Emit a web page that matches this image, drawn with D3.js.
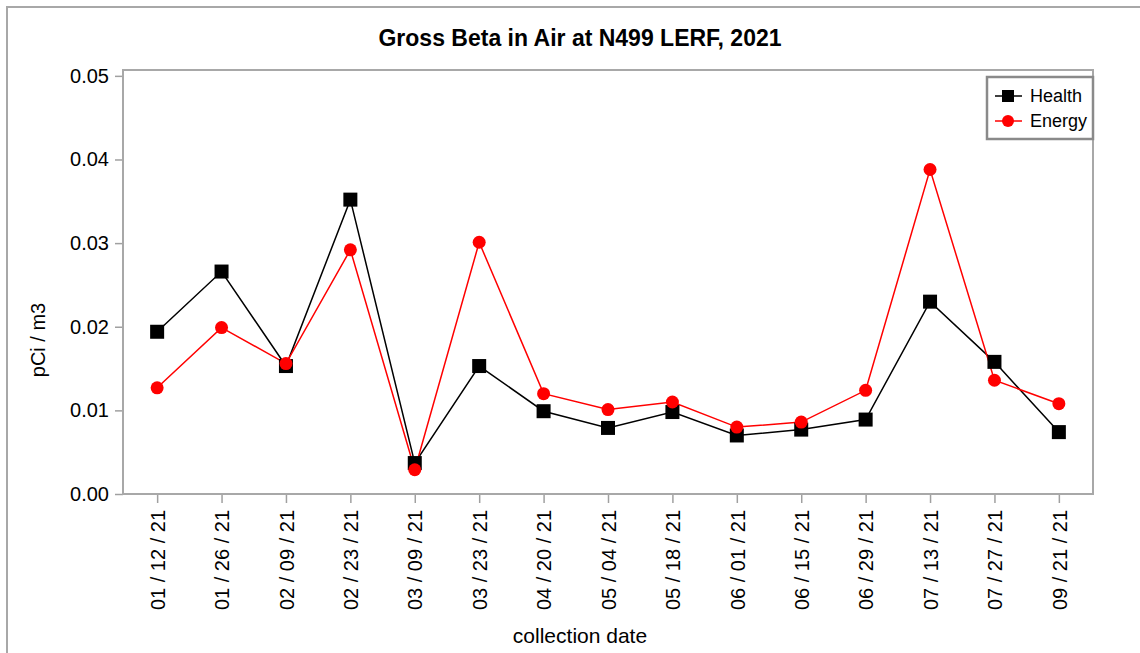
<!DOCTYPE html>
<meta charset="utf-8">
<html>
<style>
	body { margin: 0; background: #fff; }
	text { font-family: "Liberation Sans", Arial, sans-serif; fill: #000; }
	.frame { fill: none; stroke: #a8a8a8; stroke-width: 2px; }
	.tick line { stroke: #a0a0a0; stroke-width: 1.5px; }
</style>
<body>
	<script src="https://d3js.org/d3.v7.min.js"></script>
	<script type="text/javascript">
		// collection dates
		var dates = ["01 / 12 / 21", "01 / 26 / 21", "02 / 09 / 21", "02 / 23 / 21", "03 / 09 / 21",
			"03 / 23 / 21", "04 / 20 / 21", "05 / 04 / 21", "05 / 18 / 21", "06 / 01 / 21",
			"06 / 15 / 21", "06 / 29 / 21", "07 / 13 / 21", "07 / 27 / 21", "09 / 21 / 21"];
		// pCi / m3
		var health = [0.0194, 0.0266, 0.0153, 0.0352, 0.0037, 0.0153, 0.0099, 0.0079, 0.0098,
			0.0070, 0.0077, 0.0089, 0.0230, 0.0158, 0.0074];
		var energy = [0.0127, 0.0199, 0.0156, 0.0292, 0.0029, 0.0301, 0.0120, 0.0101, 0.0110,
			0.0080, 0.0086, 0.0124, 0.0388, 0.0136, 0.0108];
		var yTicks = [0, 0.01, 0.02, 0.03, 0.04, 0.05];

		var width = 1140, height = 653;
		var pLeft = 123, pRight = 1093, pTop = 70, pBottom = 494;

		var svg = d3.select("body").append("svg")
			.attr("width", width)
			.attr("height", height);

		// outer frame (top + left edges only visible)
		svg.append("path")
			.attr("d", "M7,653V7H1140")
			.attr("fill", "none")
			.attr("stroke", "#a8a8a8")
			.attr("stroke-width", 2);

		var x = d3.scalePoint()
			.domain(dates)
			.range([pLeft, pRight])
			.padding(0.53);

		var y = d3.scaleLinear()
			.domain([0, 0.0507])
			.range([pBottom, pTop]);

		// title
		svg.append("text")
			.attr("x", 580)
			.attr("y", 46)
			.attr("text-anchor", "middle")
			.style("font-size", "23px")
			.style("font-weight", "bold")
			.text("Gross Beta in Air at N499 LERF, 2021");

		// y axis
		var yAxis = svg.append("g")
			.attr("transform", "translate(" + pLeft + ",0)")
			.call(d3.axisLeft(y).tickValues(yTicks).tickFormat(d3.format(".2f")).tickSize(8).tickPadding(6));
		yAxis.select(".domain").remove();
		yAxis.selectAll("text")
			.style("font-size", "20px")
			.style("font-family", "'Liberation Sans', Arial, sans-serif")
			.attr("fill", "#000");

		// x axis
		var xAxis = svg.append("g")
			.attr("transform", "translate(0," + pBottom + ")")
			.call(d3.axisBottom(x).tickSize(9).tickPadding(0));
		xAxis.select(".domain").remove();
		xAxis.selectAll("text")
			.style("font-size", "20px")
			.style("font-family", "'Liberation Sans', Arial, sans-serif")
			.attr("fill", "#000")
			.attr("transform", "rotate(-90)")
			.attr("text-anchor", "end")
			.attr("x", -16)
			.attr("y", 0)
			.attr("dy", "0.36em");

		// plot frame
		svg.append("rect")
			.attr("class", "frame")
			.attr("x", pLeft)
			.attr("y", pTop)
			.attr("width", pRight - pLeft)
			.attr("height", pBottom - pTop);

		// axis titles
		svg.append("text")
			.attr("transform", "translate(45,340) rotate(-90)")
			.attr("text-anchor", "middle")
			.style("font-size", "20px")
			.text("pCi / m3");

		svg.append("text")
			.attr("x", 580)
			.attr("y", 643)
			.attr("text-anchor", "middle")
			.style("font-size", "21px")
			.text("collection date");

		var line = d3.line()
			.x(function (d, i) { return x(dates[i]); })
			.y(function (d) { return y(d); });

		// Health series
		svg.append("path")
			.datum(health)
			.attr("fill", "none")
			.attr("stroke", "#000")
			.attr("stroke-width", 1.5)
			.attr("d", line);

		// Energy series
		svg.append("path")
			.datum(energy)
			.attr("fill", "none")
			.attr("stroke", "#ff0000")
			.attr("stroke-width", 1.5)
			.attr("d", line);

		svg.selectAll(".hpt")
			.data(health)
			.enter().append("rect")
			.attr("class", "hpt")
			.attr("x", function (d, i) { return x(dates[i]) - 7; })
			.attr("y", function (d) { return y(d) - 7; })
			.attr("width", 14)
			.attr("height", 14)
			.attr("fill", "#000");

		svg.selectAll(".ept")
			.data(energy)
			.enter().append("circle")
			.attr("class", "ept")
			.attr("cx", function (d, i) { return x(dates[i]); })
			.attr("cy", function (d) { return y(d); })
			.attr("r", 6.5)
			.attr("fill", "#ff0000");

		// legend
		var legend = svg.append("g");
		legend.append("rect")
			.attr("x", 987)
			.attr("y", 77)
			.attr("width", 106)
			.attr("height", 62)
			.attr("fill", "#fff")
			.attr("stroke", "#8a8a8a")
			.attr("stroke-width", 2.5);

		var items = [
			{ name: "Health", color: "#000", shape: "square" },
			{ name: "Energy", color: "#ff0000", shape: "circle" }
		];
		items.forEach(function (it, i) {
			var cy = 96 + i * 25;
			legend.append("line")
				.attr("x1", 995).attr("x2", 1022)
				.attr("y1", cy).attr("y2", cy)
				.attr("stroke", it.color)
				.attr("stroke-width", 1.5);
			if (it.shape == "square") {
				legend.append("rect")
					.attr("x", 1002).attr("y", cy - 6)
					.attr("width", 12).attr("height", 12)
					.attr("fill", it.color);
			} else {
				legend.append("circle")
					.attr("cx", 1008).attr("cy", cy)
					.attr("r", 6)
					.attr("fill", it.color);
			}
			legend.append("text")
				.attr("x", 1030)
				.attr("y", cy)
				.attr("dy", "0.35em")
				.style("font-size", "18px")
				.text(it.name);
		});
	</script>
</body>
</html>
